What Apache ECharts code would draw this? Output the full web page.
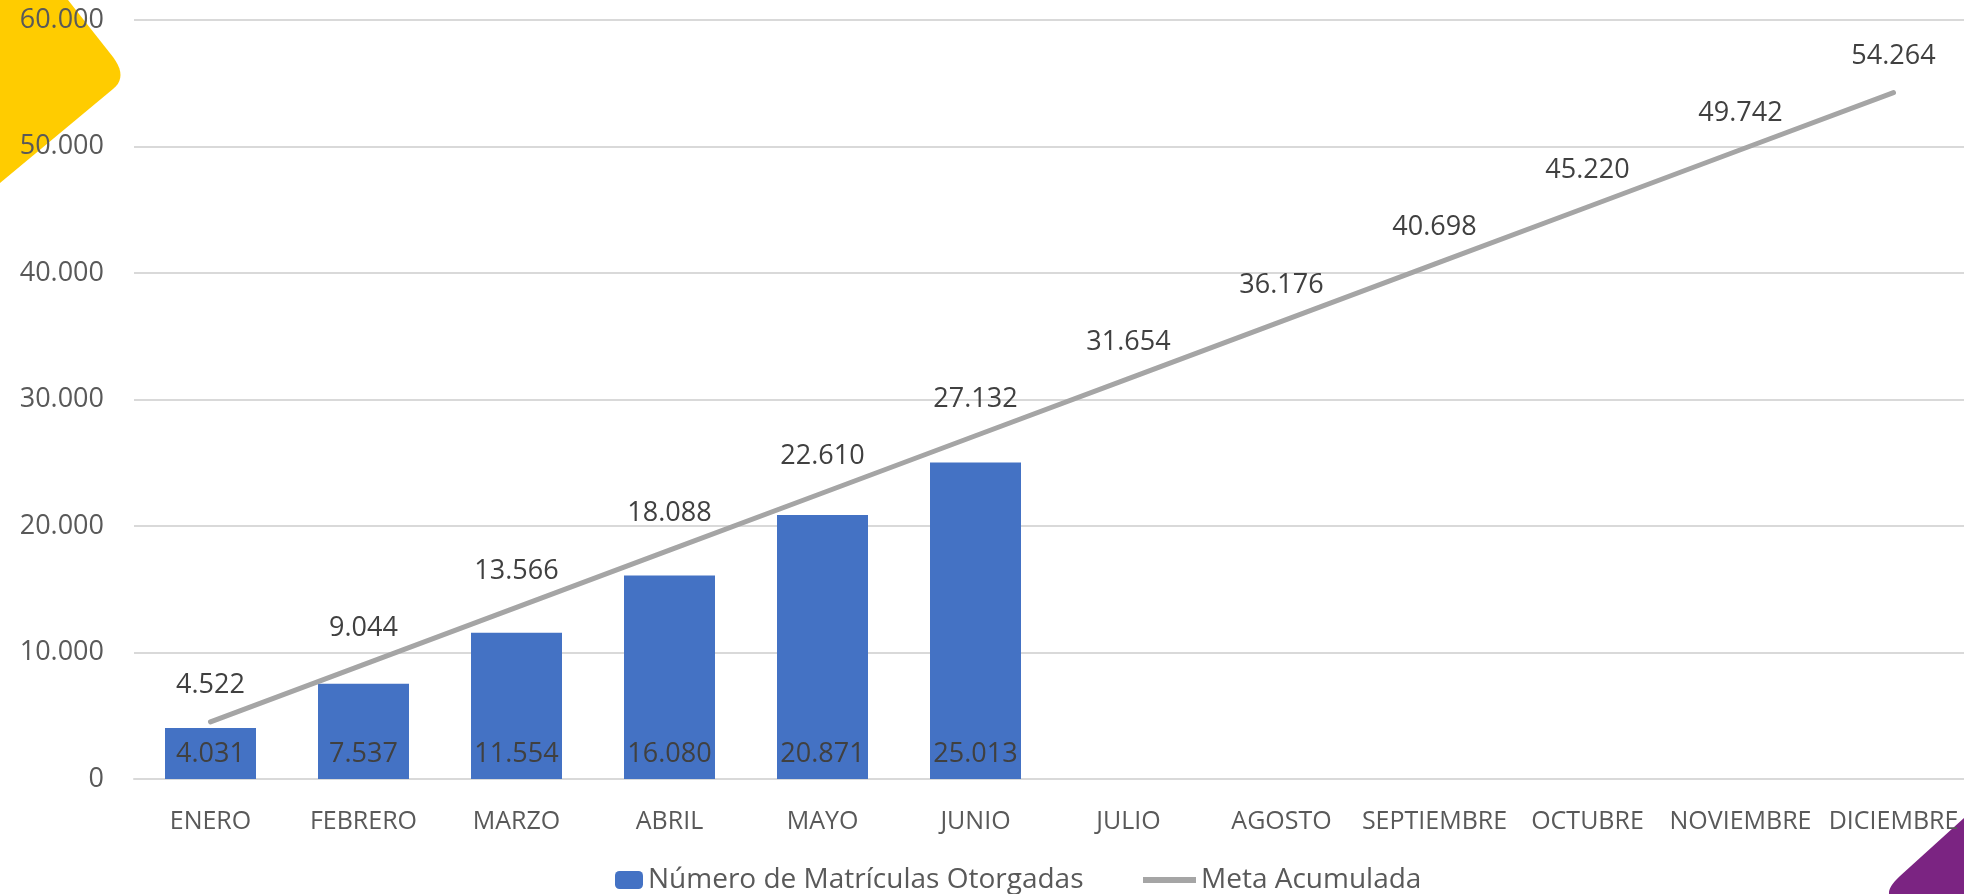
<!DOCTYPE html>
<html><head><meta charset="utf-8">
<script src="https://cdn.jsdelivr.net/npm/echarts@6/dist/echarts.min.js"></script>
<style>html,body{margin:0;padding:0;background:#fff;overflow:hidden;width:1964px;height:894px}#c{width:1970px;height:894px}</style>
</head><body><div id="c"></div>
<script>
const categories = ['ENERO','FEBRERO','MARZO','ABRIL','MAYO','JUNIO','JULIO','AGOSTO','SEPTIEMBRE','OCTUBRE','NOVIEMBRE','DICIEMBRE'];
const matriculas = [4031, 7537, 11554, 16080, 20871, 25013];
const meta = [4522, 9044, 13566, 18088, 22610, 27132, 31654, 36176, 40698, 45220, 49742, 54264];
const yTicks = {min: 0, max: 60000, interval: 10000};
const barName = 'Número de Matrículas Otorgadas';
const lineName = 'Meta Acumulada';

const fmt = v => String(Math.round(v)).replace(/\B(?=(\d{3})+(?!\d))/g, '.');
const FONT = '"Open Sans", "Noto Sans", sans-serif';

function roundCorner(p0, c, p1, n) {
  const pts = [];
  for (let i = 0; i <= n; i++) {
    const t = i / n, u = 1 - t;
    pts.push([u*u*p0[0] + 2*u*t*c[0] + t*t*p1[0], u*u*p0[1] + 2*u*t*c[1] + t*t*p1[1]]);
  }
  return pts;
}
const yellowPts = [[0,0],[68,0]].concat(roundCorner([113,57],[128,77],[113,89],10)).concat([[0,183]]);
const purplePts = [[1970,812],[1964,818]].concat(roundCorner([1900,876],[1888,887],[1889,894],8)).concat([[1970,894]]);

const chart = echarts.init(document.getElementById('c'));
chart.setOption({
  animation: false,
  backgroundColor: '#ffffff',
  textStyle: {fontFamily: FONT},
  grid: {left: 134, top: 20, right: 0, height: 759, containLabel: false},
  legend: [
    {data: [barName], left: 610, top: 861, itemWidth: 28, itemHeight: 18, itemGap: 0,
     textStyle: {fontSize: 28, color: '#595959', fontFamily: FONT}},
    {data: [{name: lineName, icon: 'rect'}], left: 1138, top: 861, itemWidth: 53, itemHeight: 6,
     textStyle: {fontSize: 28, color: '#595959', fontFamily: FONT}}
  ],
  xAxis: {
    type: 'category', data: categories,
    axisLine: {lineStyle: {color: '#D9D9D9', width: 2}},
    axisTick: {show: false},
    axisLabel: {color: '#595959', fontSize: 25, margin: 30, interval: 0, fontFamily: FONT}
  },
  yAxis: {
    type: 'value', min: yTicks.min, max: yTicks.max, interval: yTicks.interval,
    axisLine: {show: false}, axisTick: {show: false},
    splitLine: {lineStyle: {color: '#D9D9D9', width: 2}},
    axisLabel: {color: '#595959', fontSize: 27, margin: 30, formatter: fmt, fontFamily: FONT}
  },
  series: [
    {name: barName, type: 'bar', data: matriculas, barWidth: 91,
     itemStyle: {color: '#4472C4'},
     label: {show: true, position: 'insideBottom', distance: 11, color: '#404040', fontSize: 27,
             formatter: p => fmt(p.value), fontFamily: FONT}},
    {name: lineName, type: 'line', data: meta, symbol: 'circle', symbolSize: 0.1,
     lineStyle: {color: '#A5A5A5', width: 5, cap: 'round'},
     itemStyle: {color: '#A5A5A5'},
     label: {show: true, position: 'top', distance: 23, color: '#404040', fontSize: 27,
             formatter: p => fmt(p.value), fontFamily: FONT}}
  ],
  graphic: [
    {type: 'polygon', z: -10, shape: {points: yellowPts}, style: {fill: '#FFCC00'}},
    {type: 'polygon', z: -10, shape: {points: purplePts}, style: {fill: '#7B2482'}}
  ]
});
</script></body></html>
